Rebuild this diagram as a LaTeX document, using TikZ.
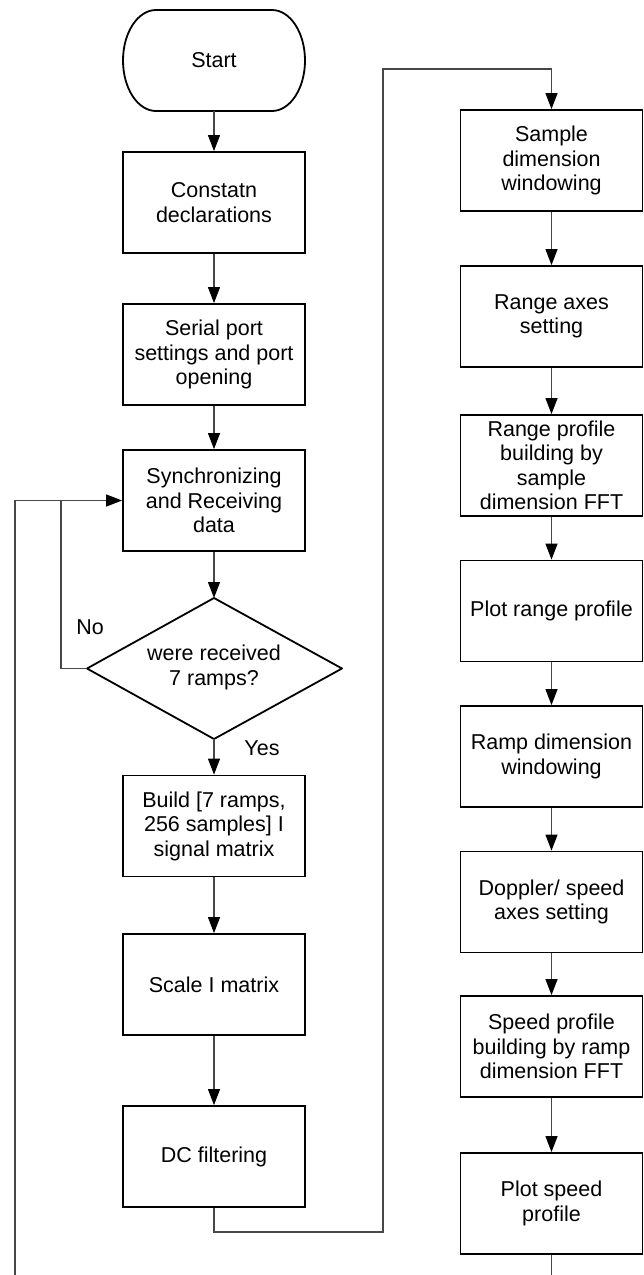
\documentclass[tikz,border=0pt]{standalone}
\usepackage{fontspec}
\setmainfont{Liberation Sans}
\usetikzlibrary{arrows.meta}
\begin{document}
\begin{tikzpicture}[x=1pt,y=-1pt,
  txt/.style={font=\fontsize{21.5}{24.5}\selectfont, align=center, inner sep=0pt},
  proc/.style={txt, draw=black, line width=1.8pt, minimum width=182pt, minimum height=101pt},
  outline/.style={draw=black, line width=1.8pt, line join=round},
  conn/.style={draw=black!72, line width=1.1pt},
  arr/.style={conn, -{Triangle[length=16pt,width=12pt,color=black,fill=black]}}]
\useasboundingbox (0,0) rectangle (643,1275);

% ---- left column ----
\draw[outline] (156,10) -- (272,10)
  .. controls (290.2,10) and (305,32.6) .. (305,60.5)
  .. controls (305,88.4) and (290.2,111) .. (272,111)
  -- (156,111)
  .. controls (137.8,111) and (123,88.4) .. (123,60.5)
  .. controls (123,32.6) and (137.8,10) .. (156,10) -- cycle;
\node[txt, minimum width=182pt, minimum height=101pt] (start) at (214,60.5) {Start};
\node[proc] (const) at (214,202.5) {Constatn\\declarations};
\node[proc] (serial) at (214,354.5) {Serial port\\settings and port\\opening};
\node[proc] (sync) at (214,500.5) {Synchronizing\\and Receiving\\data};

\coordinate (dt) at (214,598);
\coordinate (db) at (214,739);
\coordinate (dl) at (87,668.5);
\coordinate (dr) at (342,668.5);
\draw[outline] (dt) -- (dr) -- (db) -- (dl) -- cycle;
\node[txt] (dec) at (214,667.5) {were received\\7 ramps?};

\node[proc] (build) at (214,826) {Build [7 ramps,\\256 samples] I\\signal matrix};
\node[proc] (scale) at (214,984.5) {Scale I matrix};
\node[proc] (dc) at (214,1156.5) {DC filtering};

\node[txt] (nolbl) at (90,627) {No};
\node[txt] (yeslbl) at (262,748) {Yes};

% ---- right column ----
\node[proc] (sample) at (551.5,160.5) {Sample\\dimension\\windowing};
\node[proc] (raxes) at (551.5,316.5) {Range axes\\setting};
\node[proc] (rprof) at (551.5,465.5) {Range profile\\building by\\sample\\dimension FFT};
\node[proc] (prange) at (551.5,611) {Plot range profile};
\node[proc] (ramp) at (551.5,756.5) {Ramp dimension\\windowing};
\node[proc] (doppler) at (551.5,902) {Doppler/ speed\\axes setting};
\node[proc] (sprof) at (551.5,1046.5) {Speed profile\\building by ramp\\dimension FFT};
\node[proc] (pspeed) at (551.5,1203.5) {Plot speed\\profile};

% ---- connectors ----
\draw[arr] (start) -- (const);
\draw[arr] (const) -- (serial);
\draw[arr] (serial) -- (sync);
\draw[arr] (sync) -- (dt);
\draw[arr] (db) -- (build);
\draw[arr] (build) -- (scale);
\draw[arr] (scale) -- (dc);

\coordinate (nojoin) at (61,500.5);
\draw[conn] (dl) -| (nojoin);
\coordinate (loopbot) at (15,1275);
\draw[arr] (loopbot) |- (sync.west);

\coordinate (bendA) at (383,1232);
\coordinate (bendB) at (383,69);
\draw[arr] (dc.south) |- (bendA) -- (bendB) -| (sample.north);

\draw[arr] (sample) -- (raxes);
\draw[arr] (raxes) -- (rprof);
\draw[arr] (rprof) -- (prange);
\draw[arr] (prange) -- (ramp);
\draw[arr] (ramp) -- (doppler);
\draw[arr] (doppler) -- (sprof);
\draw[arr] (sprof) -- (pspeed);
\coordinate (rbot) at (551.5,1275);
\draw[conn] (pspeed) -- (rbot);
\end{tikzpicture}
\end{document}
